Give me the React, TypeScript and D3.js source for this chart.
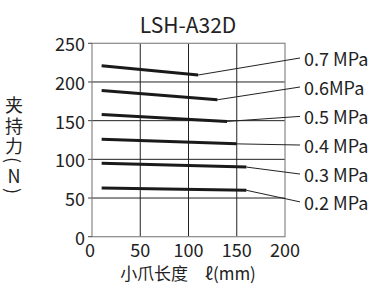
import * as d3 from "d3";

const pressures = ["0.7 MPa", "0.6MPa", "0.5 MPa", "0.4 MPa", "0.3 MPa", "0.2 MPa"];
const startLength = [10, 10, 10, 10, 10, 10];
const endLength = [110, 130, 140, 150, 160, 160];
const startForce = [221, 189, 158, 126, 95, 63];
const endForce = [209, 177, 149, 120, 90, 60];
// where each leader line meets its label, in N
const labelForce = [231, 193.5, 155.5, 118.5, 81, 45];

const xTicks = [0, 50, 100, 150, 200];
const yTicks = [0, 50, 100, 150, 200, 250];
// vertical title, one glyph per row; the brackets are turned on their side
const yTitleChars = ["夹", "持", "力", "(", "N", ")"];
const yTitleCenters = [104, 125, 145, 160, 175, 191];

const font = "'Noto Sans CJK SC', 'Noto Sans', sans-serif";

export default function App() {
    const width = 374;
    const height = 284;
    const x = d3.scaleLinear().domain([0, 200]).range([92, 285]);
    const y = d3.scaleLinear().domain([0, 250]).range([236.7, 43.3]);

    const line = d3
        .line<[number, number]>()
        .x((d) => x(d[0]))
        .y((d) => y(d[1]));

    const labelX = x(200) + 15;

    return (
        <svg
            width={width}
            height={height}
            style={{ position: "absolute", left: 0, top: 0, background: "#fff" }}
            fontFamily={font}
        >
            {/* title */}
            <text x={188} y={24} textAnchor="middle" dominantBaseline="central" fontSize={21} fill="#222">
                LSH-A32D
            </text>

            {/* grid */}
            {xTicks.slice(1, -1).map((t) => (
                <line key={"gx" + t} x1={x(t)} x2={x(t)} y1={y(0)} y2={y(250)} stroke="#222" strokeWidth={1} />
            ))}
            {yTicks.slice(1, -1).map((t) => (
                <line key={"gy" + t} x1={x(0)} x2={x(200)} y1={y(t)} y2={y(t)} stroke="#222" strokeWidth={1} />
            ))}
            <rect
                x={x(0)}
                y={y(250)}
                width={x(200) - x(0)}
                height={y(0) - y(250)}
                fill="none"
                stroke="#888"
                strokeWidth={1.2}
            />
            {yTicks.map((t) => (
                <line key={"ty" + t} x1={x(0) - 4} x2={x(0)} y1={y(t)} y2={y(t)} stroke="#444" />
            ))}

            {/* tick labels */}
            {yTicks.map((t) => (
                <text
                    key={"ly" + t}
                    x={x(0) - 7}
                    y={y(t)}
                    textAnchor="end"
                    dominantBaseline="central"
                    fontSize={18}
                    fill="#222"
                >
                    {t}
                </text>
            ))}
            {xTicks.map((t) => (
                <text
                    key={"lx" + t}
                    x={t === 0 ? x(t) - 2 : x(t)}
                    y={249}
                    textAnchor="middle"
                    dominantBaseline="central"
                    fontSize={18}
                    fill="#222"
                >
                    {t}
                </text>
            ))}

            {/* axis titles */}
            <text x={188} y={272} textAnchor="middle" dominantBaseline="central" fontSize={17} fill="#222">
                小爪长度　ℓ(mm)
            </text>
            {yTitleChars.map((c, i) => {
                const cy = yTitleCenters[i];
                const turned = c === "(" || c === ")";
                return (
                    <text
                        key={"yt" + i}
                        x={14}
                        y={cy}
                        textAnchor="middle"
                        dominantBaseline="central"
                        fontSize={18}
                        fill="#222"
                        transform={turned ? `rotate(90,14,${cy})` : undefined}
                    >
                        {c}
                    </text>
                );
            })}

            {/* series */}
            {pressures.map((p, i) => {
                const end: [number, number] = [endLength[i], endForce[i]];
                return (
                    <g key={p}>
                        <path
                            d={line([[startLength[i], startForce[i]], end]) ?? ""}
                            fill="none"
                            stroke="#1a1a1a"
                            strokeWidth={3}
                        />
                        <line
                            x1={x(end[0])}
                            y1={y(end[1])}
                            x2={labelX}
                            y2={y(labelForce[i])}
                            stroke="#222"
                            strokeWidth={1}
                        />
                        <text
                            x={labelX + 4}
                            y={y(labelForce[i])}
                            dominantBaseline="central"
                            fontSize={18}
                            fill="#222"
                        >
                            {p}
                        </text>
                    </g>
                );
            })}
        </svg>
    );
}
